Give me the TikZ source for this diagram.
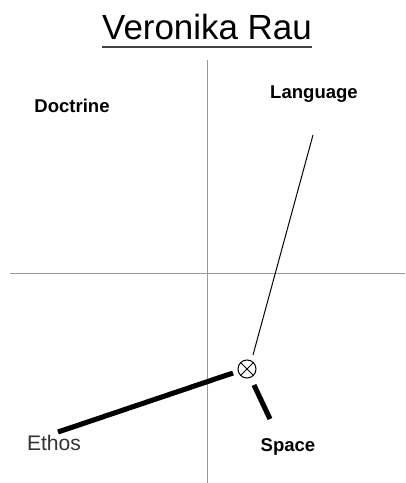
\documentclass[tikz,border=0pt]{standalone}
\usepackage{fontspec}
\setmainfont{Liberation Sans}
\begin{document}
\begin{tikzpicture}[x=0.75pt,y=-0.75pt,
  axis/.style={draw=black!40,line width=0.75pt},
  lbl/.style={font=\bfseries\fontsize{13.9}{16}\selectfont,inner sep=0pt},
  thick line/.style={line width=3.8pt},
  thin line/.style={line width=0.75pt}]
\path[use as bounding box,fill=white] (0,0) rectangle (405,483);
% title
\node[inner sep=0pt,anchor=base,font=\fontsize{26.2}{30}\selectfont] (title) at (207,39) {Veronika Rau};
\draw[draw=black!75,line width=1.6pt] (title.west |- 0,47) -- (title.east |- 0,47);
% axes
\coordinate (vt) at (207,60);
\coordinate (vb) at (207,483);
\coordinate (hl) at (10,273);
\coordinate (hr) at (405,273);
\draw[axis] (vt) -- (vb);
\draw[axis] (hl) -- (hr);
% labels
\node[lbl,anchor=base] (doc) at (72,112) {Doctrine};
\node[lbl,anchor=base] (lang) at (314,98) {Language};
\node[lbl,anchor=base] (space) at (288,451) {Space};
\node[inner sep=0pt,anchor=base,text=black!80,font=\fontsize{15.8}{18}\selectfont] (ethos) at (54,450) {Ethos};
% center marker
\node[draw,circle,minimum size=13.5pt,inner sep=0pt,line width=0.75pt] (c) at (247,369) {};
\draw[line width=0.75pt] (c.north west) -- (c.south east) (c.north east) -- (c.south west);
% connectors
\coordinate (lend) at (313,135);
\coordinate (eend) at (58,432);
\coordinate (send) at (270,419);
\coordinate (ls) at (253,355);
\coordinate (es) at (233,373);
\coordinate (ss) at (254,385);
\draw[thin line] (ls) -- (lend);
\draw[thick line] (es) -- (eend);
\draw[thick line] (ss) -- (send);
\end{tikzpicture}
\end{document}
